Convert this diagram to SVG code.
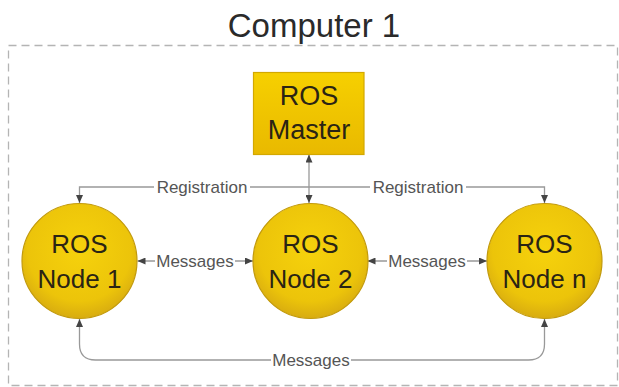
<svg xmlns="http://www.w3.org/2000/svg" width="619" height="387" viewBox="0 0 619 387">
<defs>
<style>
.frame{fill:none;stroke:#b4b4b4;stroke-width:1.3;stroke-dasharray:8 5}
.title{font-family:"Liberation Sans",Arial,sans-serif;font-size:33px;fill:#2a2a2a;text-anchor:middle}
.node-text{font-family:"Liberation Sans",Arial,sans-serif;font-size:26px;fill:#2a2414;text-anchor:middle}
.conn{fill:none;stroke:#999;stroke-width:1.3;marker-end:url(#arrow)}
.both{marker-start:url(#arrow)}
.lbl{font-family:"Liberation Sans",Arial,sans-serif;font-size:17px;fill:#555;text-anchor:middle}
.lblbg{fill:#fff}
.circle{fill:url(#gCircle);stroke:#c29a0c;stroke-width:1.2}
.box{fill:url(#gBox);stroke:#d3a800;stroke-width:1.2}
</style>
<radialGradient id="gCircle" cx="50%" cy="40%" r="60%">
<stop offset="0" stop-color="#f6d20c"/>
<stop offset="0.75" stop-color="#ecc40a"/>
<stop offset="1" stop-color="#d8ac10"/>
</radialGradient>
<linearGradient id="gBox" x1="0" y1="0" x2="0" y2="1">
<stop offset="0" stop-color="#f6d000"/>
<stop offset="1" stop-color="#e9b900"/>
</linearGradient>
<marker id="arrow" viewBox="0 0 8 7" refX="8" refY="3.5" markerWidth="8" markerHeight="7" markerUnits="userSpaceOnUse" orient="auto-start-reverse">
<path d="M0,0 L8,3.5 L0,7 z" fill="#444"/>
</marker>
</defs>
<rect width="619" height="387" fill="#fff"/>
<rect class="frame" x="8.5" y="45.5" width="609" height="340"/>
<text class="title" x="314" y="37">Computer 1</text>

<g id="connectors">
<path class="conn" d="M309,187 H79.5 V203"/>
<path class="conn" d="M309,187 H544.5 V203"/>
<path class="conn both" d="M309,154.5 V203"/>
<path class="conn both" d="M137.5,261 H253"/>
<path class="conn both" d="M367.5,261 H487"/>
<path class="conn both" d="M79.5,319 V344 Q79.5,360 95.5,360 H528.5 Q544.5,360 544.5,344 V319"/>
<rect class="lblbg" x="154" y="176" width="96" height="20"/>
<text class="lbl" x="202" y="192.5">Registration</text>
<rect class="lblbg" x="370" y="176" width="96" height="20"/>
<text class="lbl" x="418" y="192.5">Registration</text>
<rect class="lblbg" x="155" y="251" width="80" height="20"/>
<text class="lbl" x="195" y="267">Messages</text>
<rect class="lblbg" x="387" y="251" width="80" height="20"/>
<text class="lbl" x="427" y="267">Messages</text>
<rect class="lblbg" x="271" y="350" width="80" height="20"/>
<text class="lbl" x="311" y="366">Messages</text>
</g>

<g id="master">
<rect class="box" x="253.5" y="72.5" width="110.5" height="82"/>
<text class="node-text" x="309" y="105" style="font-size:27px">ROS</text>
<text class="node-text" x="309" y="139" style="font-size:27px">Master</text>
</g>

<g id="node1">
<circle class="circle" cx="79.5" cy="261" r="57.5"/>
<text class="node-text" x="79.5" y="253">ROS</text>
<text class="node-text" x="79.5" y="288">Node 1</text>
</g>

<g id="node2">
<circle class="circle" cx="310.5" cy="261" r="57.5"/>
<text class="node-text" x="310.5" y="253">ROS</text>
<text class="node-text" x="310.5" y="288">Node 2</text>
</g>

<g id="noden">
<circle class="circle" cx="544.5" cy="261" r="57.5"/>
<text class="node-text" x="544.5" y="253">ROS</text>
<text class="node-text" x="544.5" y="288">Node n</text>
</g>
</svg>
